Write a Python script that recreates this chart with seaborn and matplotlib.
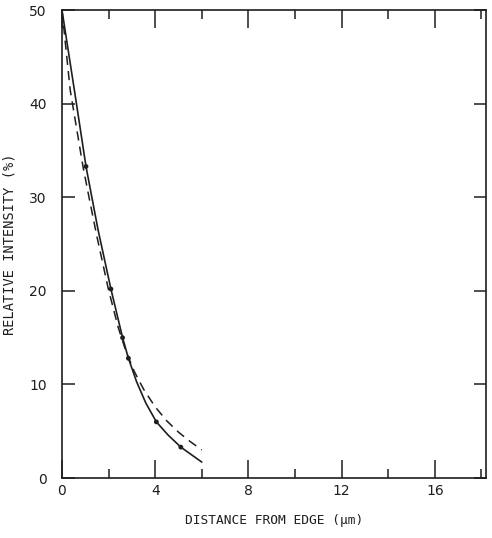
import matplotlib
matplotlib.use("Agg")
import matplotlib.pyplot as plt
import seaborn as sns
import pandas as pd
from matplotlib.ticker import MultipleLocator

# Data
solid_x = [0.0, 0.56, 1.03, 1.55, 2.1, 2.6, 2.85, 3.2, 3.6, 4.05, 4.55, 5.1, 5.55, 6.0]
solid_y = [50.0, 41.0, 33.3, 26.5, 20.2, 15.0, 12.8, 10.3, 8.0, 6.0, 4.6, 3.3, 2.5, 1.7]
dashed_x = [0.0, 0.35, 0.9, 1.2, 1.5, 1.98, 2.4, 2.75, 3.1, 3.5, 4.0, 4.5, 5.0, 5.5, 6.0]
dashed_y = [50.0, 41.5, 33.3, 29.5, 25.8, 20.3, 16.2, 13.5, 11.4, 9.5, 7.6, 6.1, 4.9, 3.9, 3.0]
pts_x = [1.03, 2.1, 2.6, 2.85, 4.05, 5.1]
pts_y = [33.3, 20.2, 15.0, 12.8, 6.0, 3.3]
x_ticks = [0, 4, 8, 12, 16]
y_ticks = [0, 10, 20, 30, 40, 50]

sns.set_style("white")
plt.rcParams['font.family'] = ['DejaVu Sans Mono', 'DejaVu Sans']
ink = "#1e1e1e"

fig = plt.figure(figsize=(4.92, 5.38), dpi=100)
ax = fig.add_axes([0.126, 0.1115, 0.862, 0.8695])

df_s = pd.DataFrame({"x": solid_x, "y": solid_y})
df_d = pd.DataFrame({"x": dashed_x, "y": dashed_y})
df_p = pd.DataFrame({"x": pts_x, "y": pts_y})

sns.lineplot(data=df_s, x="x", y="y", ax=ax, color=ink, lw=1.2, sort=False, estimator=None)
sns.lineplot(data=df_d, x="x", y="y", ax=ax, color=ink, lw=1.1, sort=False, estimator=None,
             dashes=False, linestyle=(0, (6, 4)))
sns.scatterplot(data=df_p, x="x", y="y", ax=ax, color=ink, s=12, edgecolor="none", zorder=5)

ax.set_xlim(0, 18.2)
ax.set_ylim(0, 50)
ax.set_xticks(x_ticks)
ax.set_yticks(y_ticks)
ax.xaxis.set_minor_locator(MultipleLocator(2))
ax.tick_params(axis="x", which="major", direction="in", length=13, width=1.1, top=True,
               bottom=True, color=ink, labelsize=10, labelcolor=ink, pad=4)
ax.tick_params(axis="x", which="minor", direction="in", length=6.5, width=1.1, top=True,
               bottom=True, color=ink)
ax.tick_params(axis="y", which="major", direction="in", length=9, width=1.1, left=True,
               right=True, color=ink, labelsize=10, labelcolor=ink, pad=11)
for lab in ax.get_xticklabels() + ax.get_yticklabels():
    lab.set_family(['DejaVu Sans'])
    lab.set_color(ink)

for sp in ax.spines.values():
    sp.set_color(ink)
    sp.set_linewidth(1.2)

ax.set_xlabel("DISTANCE FROM EDGE (μm)", fontsize=9.3, color=ink, labelpad=12)
ax.set_ylabel("RELATIVE INTENSITY (%)", fontsize=9.8, color=ink, labelpad=9)

fig.savefig("out.png", dpi=100, facecolor="white")
